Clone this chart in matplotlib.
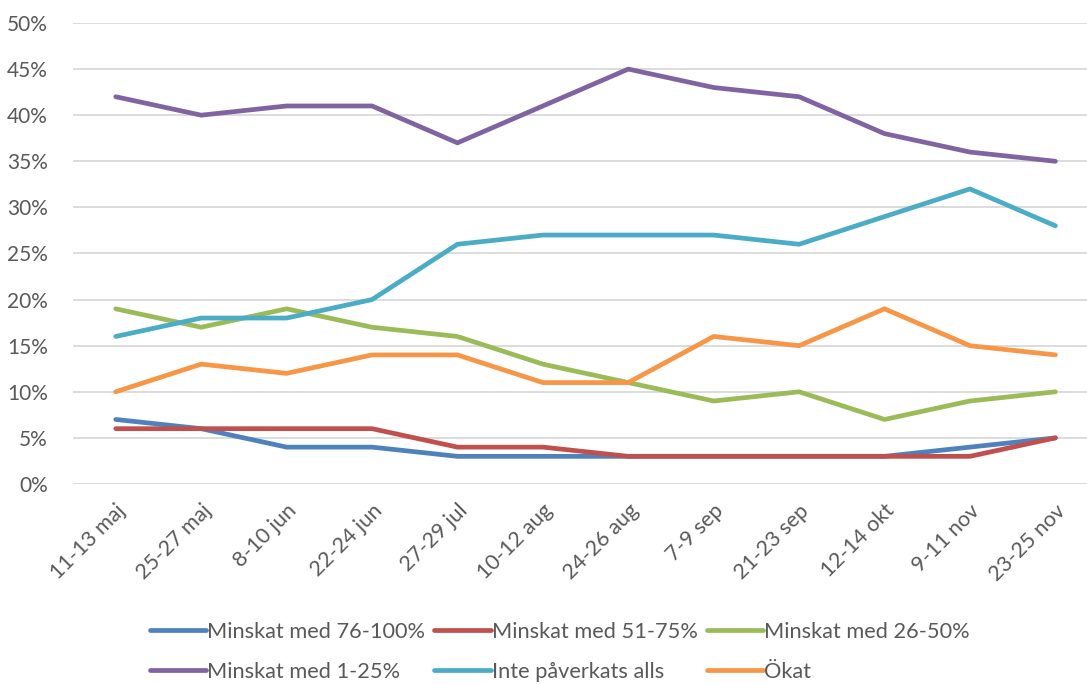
import matplotlib
matplotlib.use("Agg")
import matplotlib.pyplot as plt
from matplotlib.ticker import PercentFormatter

plt.rcParams['font.family'] = ['Lato', 'DejaVu Sans']

perioder = ["11-13 maj", "25-27 maj", "8-10 jun", "22-24 jun", "27-29 jul", "10-12 aug",
            "24-26 aug", "7-9 sep", "21-23 sep", "12-14 okt", "9-11 nov", "23-25 nov"]

minskat_76_100 = [7, 6, 4, 4, 3, 3, 3, 3, 3, 3, 4, 5]
minskat_51_75 = [6, 6, 6, 6, 4, 4, 3, 3, 3, 3, 3, 5]
minskat_26_50 = [19, 17, 19, 17, 16, 13, 11, 9, 10, 7, 9, 10]
minskat_1_25 = [42, 40, 41, 41, 37, 41, 45, 43, 42, 38, 36, 35]
inte_paverkats = [16, 18, 18, 20, 26, 27, 27, 27, 26, 29, 32, 28]
okat = [10, 13, 12, 14, 14, 11, 11, 16, 15, 19, 15, 14]

serier = [
    ("Minskat med 76-100%", minskat_76_100, "#4F81BD"),
    ("Minskat med 51-75%", minskat_51_75, "#C0504D"),
    ("Minskat med 26-50%", minskat_26_50, "#9BBB59"),
    ("Minskat med 1-25%", minskat_1_25, "#8064A2"),
    ("Inte påverkats alls", inte_paverkats, "#4BACC6"),
    ("Ökat", okat, "#F79646"),
]

fig = plt.figure(figsize=(10.87, 6.84), dpi=100)
ax = fig.add_axes([0.0672, 0.2924, 0.943, 0.674])

x = range(len(perioder))
linjer = []
for namn, varden, farg in serier:
    l, = ax.plot(x, varden, color=farg, lw=3.4, label=namn,
                 solid_capstyle='round', solid_joinstyle='round', zorder=3)
    linjer.append(l)

ax.set_xlim(-0.5, len(perioder) - 0.5)
ax.set_ylim(0, 50)
ax.set_yticks(range(0, 51, 5))
ax.yaxis.set_major_formatter(PercentFormatter(decimals=0))
ax.grid(axis='y', color='#D9D9D9', lw=1.3, zorder=0)
for s in ax.spines.values():
    s.set_visible(False)
ax.tick_params(length=0, labelsize=15, labelcolor='#595959')
ax.tick_params(axis='y', pad=18)
ax.set_xticks(list(x))
ax.set_xticklabels(perioder, rotation=45, ha='right', rotation_mode='anchor', fontsize=15.5)
ax.tick_params(axis='x', pad=12)

# legend row-wise like Excel
ordning = [0, 3, 1, 4, 2, 5]
fig.legend([linjer[i] for i in ordning], [serier[i][0] for i in ordning],
           loc='center', bbox_to_anchor=(0.515, 0.047), ncol=3, frameon=False,
           fontsize=15.7, handlelength=2.6, handletextpad=0.05, columnspacing=0.4,
           labelspacing=0.9, labelcolor='#595959')

fig.savefig("out.png", dpi=100)
